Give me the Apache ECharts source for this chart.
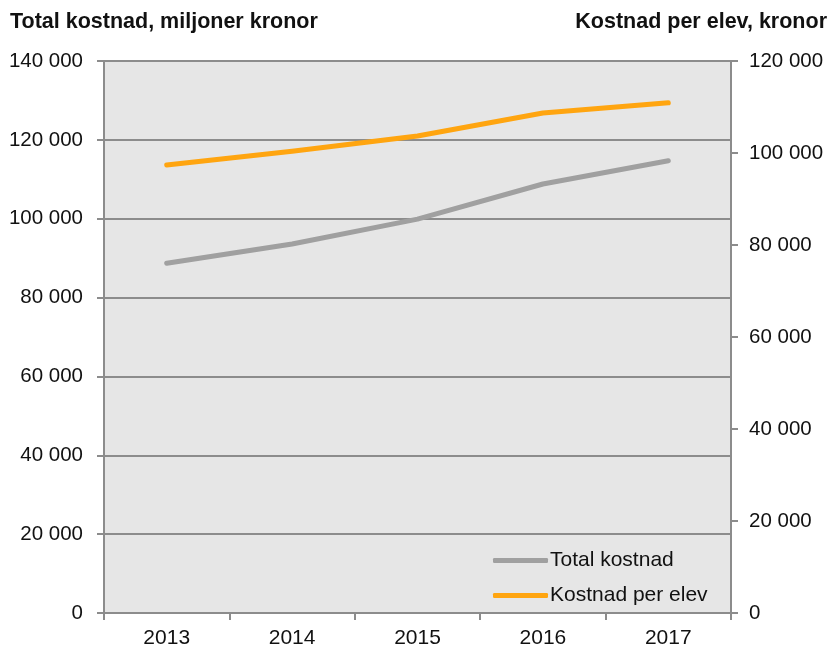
<!DOCTYPE html>
<html>
<head>
<meta charset="utf-8">
<script src="https://cdn.jsdelivr.net/npm/echarts@6/dist/echarts.min.js"></script>
<style>
  html, body { margin: 0; padding: 0; background: #fff; }
  #chart { width: 830px; height: 650px; }
</style>
</head>
<body>
<div id="chart"></div>
<script>
const years = ["2013", "2014", "2015", "2016", "2017"];
const totalKostnad = [88700, 93600, 99900, 108800, 114700];
const kostnadPerElev = [97400, 100400, 103700, 108700, 110900];

const fmt = (v) => String(v).replace(/\B(?=(\d{3})+(?!\d))/g, " ");
const axisGrey = "#8c8c8c";
const font = "Liberation Sans, Arial, sans-serif";

const chart = echarts.init(document.getElementById("chart"));

chart.setOption({
  animation: false,
  textStyle: { fontFamily: font },
  title: [
    {
      text: "Total kostnad, miljoner kronor",
      left: 5,
      top: 6,
      textStyle: { fontSize: 21.5, fontWeight: "bold", color: "#111", fontFamily: font },
    },
    {
      text: "Kostnad per elev, kronor",
      right: -2,
      top: 6,
      textStyle: { fontSize: 21.5, fontWeight: "bold", color: "#111", fontFamily: font },
    },
  ],
  grid: {
    left: 104,
    right: 99,
    top: 61,
    bottom: 37,
    show: true,
    backgroundColor: "#e6e6e6",
    borderWidth: 0,
  },
  legend: {
    orient: "vertical",
    left: 488,
    top: 545,
    itemWidth: 55,
    itemHeight: 5,
    itemGap: 14,
    icon: "roundRect",
    textStyle: { fontSize: 21, color: "#111", fontFamily: font, padding: [0, 0, 0, -3] },
    data: ["Total kostnad", "Kostnad per elev"],
  },
  xAxis: {
    type: "category",
    data: years,
    boundaryGap: true,
    axisLine: { lineStyle: { color: axisGrey, width: 2 } },
    axisTick: { show: true, length: 7, lineStyle: { color: axisGrey, width: 2 } },
    axisLabel: { fontSize: 21, color: "#111", margin: 15 },
  },
  yAxis: [
    {
      type: "value",
      min: 0,
      max: 140000,
      interval: 20000,
      axisLine: { show: true, lineStyle: { color: axisGrey, width: 2 } },
      axisTick: { show: true, length: 7, lineStyle: { color: axisGrey, width: 2 } },
      splitLine: { lineStyle: { color: axisGrey, width: 2 } },
      axisLabel: { fontSize: 20.5, color: "#111", margin: 21, formatter: fmt },
    },
    {
      type: "value",
      min: 0,
      max: 120000,
      interval: 20000,
      position: "right",
      axisLine: { show: true, lineStyle: { color: axisGrey, width: 2 } },
      axisTick: { show: true, length: 7, lineStyle: { color: axisGrey, width: 2 } },
      splitLine: { show: false },
      axisLabel: { fontSize: 20.5, color: "#111", margin: 18, formatter: fmt },
    },
  ],
  series: [
    {
      name: "Total kostnad",
      type: "line",
      yAxisIndex: 0,
      data: totalKostnad,
      symbol: "none",
      color: "#a0a0a0",
      lineStyle: { width: 5, cap: "round", join: "round" },
    },
    {
      name: "Kostnad per elev",
      type: "line",
      yAxisIndex: 1,
      data: kostnadPerElev,
      symbol: "none",
      color: "#ffa510",
      lineStyle: { width: 5, cap: "round", join: "round" },
    },
  ],
});
</script>
</body>
</html>
